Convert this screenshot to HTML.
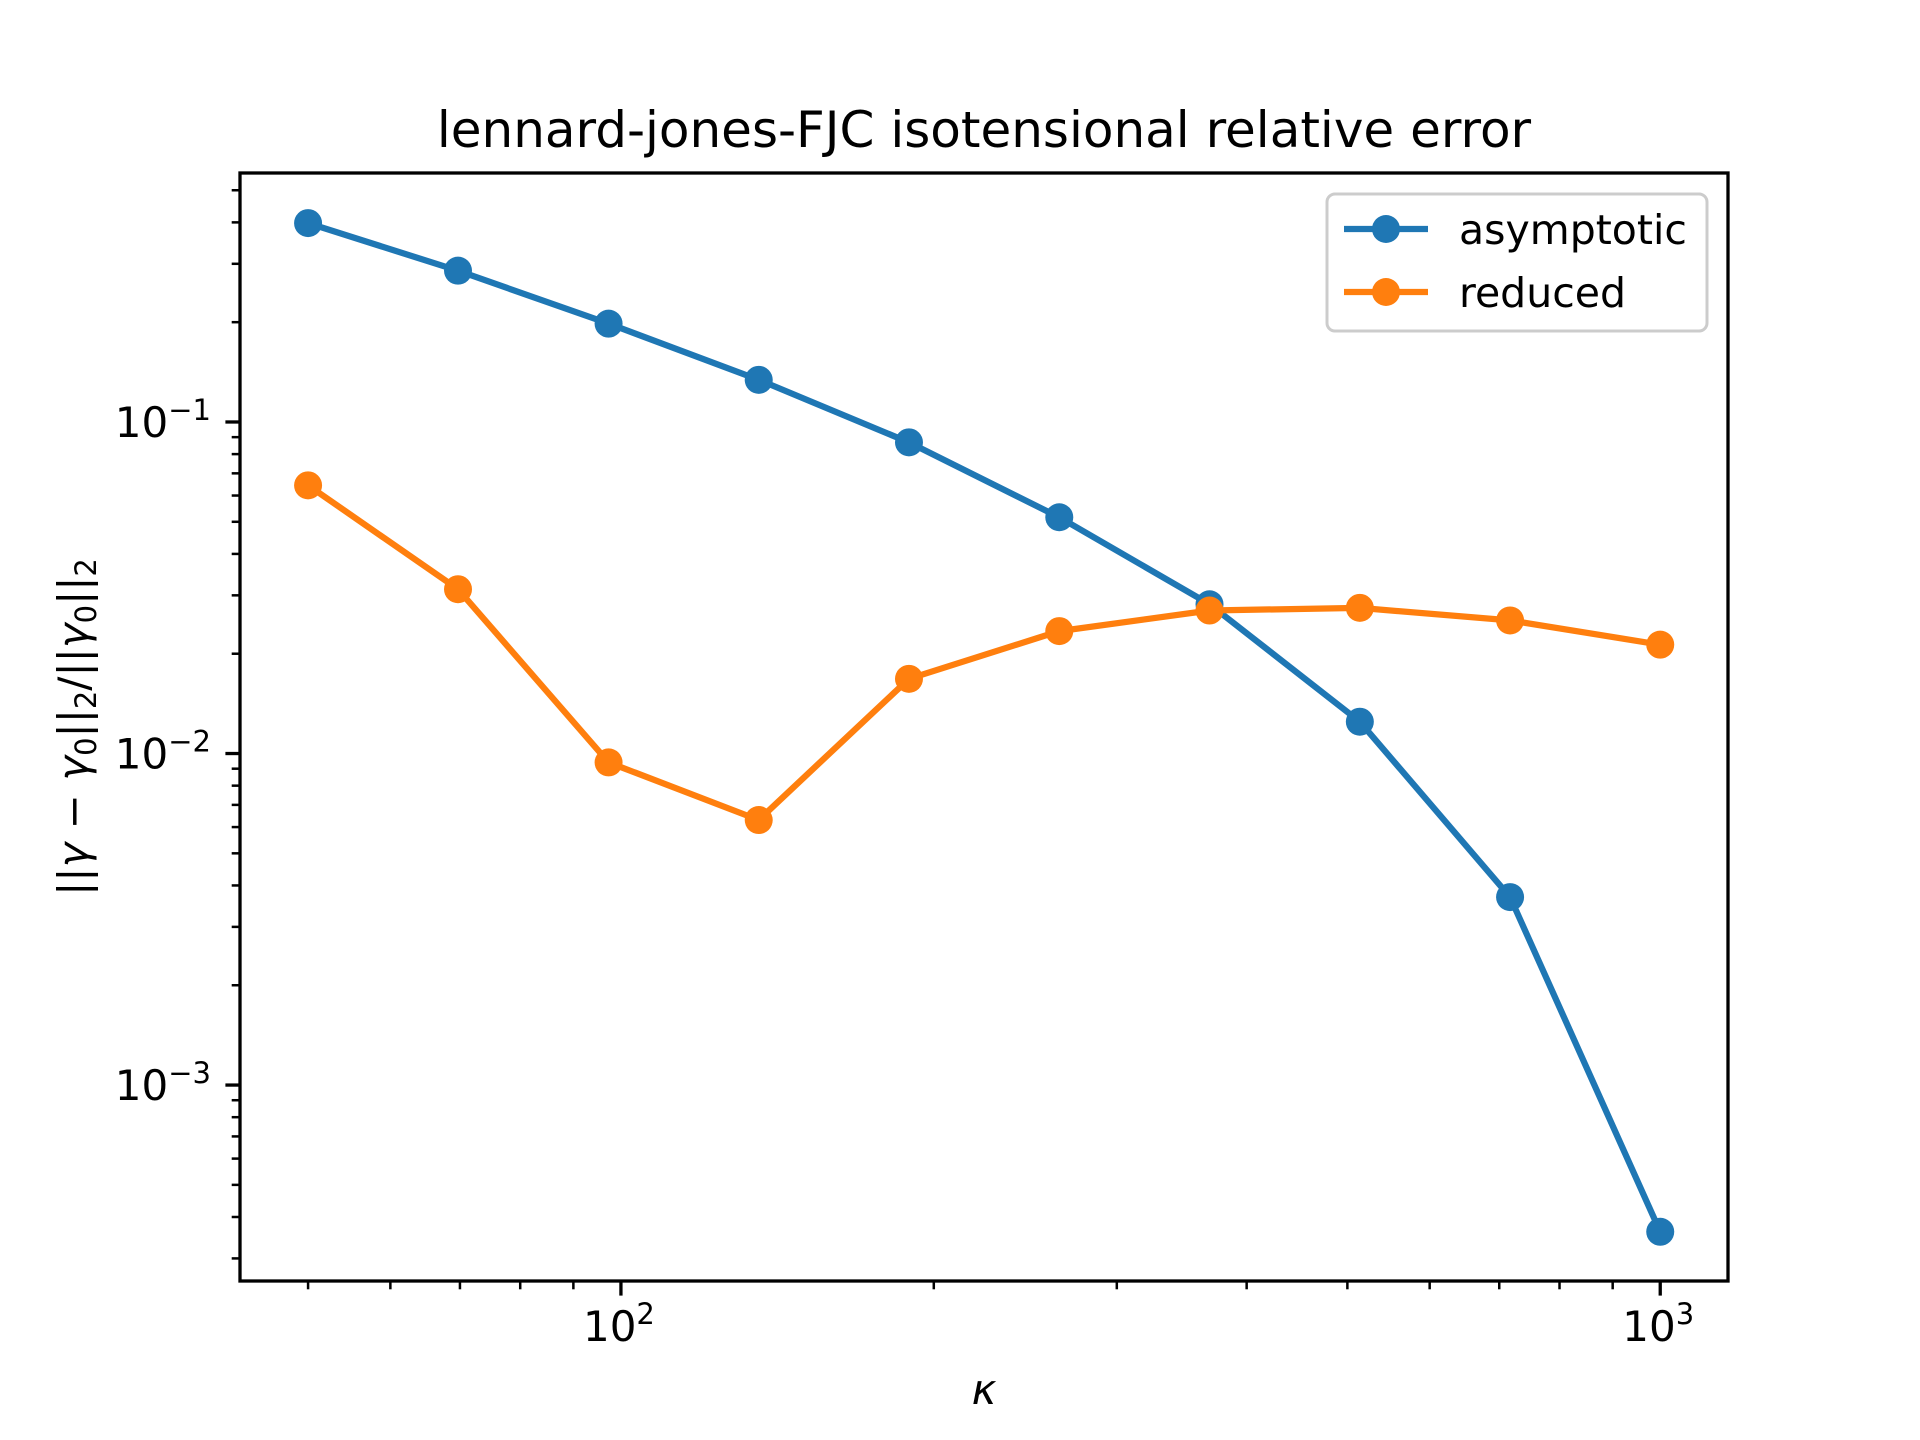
<!DOCTYPE html>
<html><head><meta charset="utf-8"><style>
html,body{margin:0;padding:0;background:#fff;}
svg{display:block;font-family:"DejaVu Sans","Liberation Sans",sans-serif;}
</style></head><body>
<svg id="chart" width="1920" height="1440" viewBox="0 0 1920 1440">
<rect width="1920" height="1440" fill="#fff"/>
<text x="984" y="147" font-size="50" text-anchor="middle">lennard-jones-FJC isotensional relative error</text>
<g id="grid-layer"></g>
<g id="series-layer"></g>
<rect x="240" y="173" width="1488" height="1108" fill="none" stroke="#000" stroke-width="3.3"/>
<text x="984" y="1404" font-size="42" font-style="italic" text-anchor="middle">κ</text>
<text transform="translate(88,727) rotate(-90)" font-size="42" text-anchor="middle">||<tspan font-style="italic">γ</tspan> − <tspan font-style="italic">γ</tspan><tspan font-size="29" dy="8">0</tspan><tspan dy="-8">||</tspan><tspan font-size="29" dy="8">2</tspan><tspan dy="-8">/||</tspan><tspan font-style="italic">γ</tspan><tspan font-size="29" dy="8">0</tspan><tspan dy="-8">||</tspan><tspan font-size="29" dy="8">2</tspan></text>
<g>
<rect x="1327" y="194" width="380" height="137" rx="8" fill="#fff" fill-opacity="0.8" stroke="#ccc" stroke-width="3"/>
<line x1="1344" y1="229" x2="1428" y2="229" stroke="#1f77b4" stroke-width="6.25"/>
<circle cx="1386" cy="229" r="14" fill="#1f77b4"/>
<text x="1459" y="244" font-size="41">asymptotic</text>
<line x1="1344" y1="292" x2="1428" y2="292" stroke="#ff7f0e" stroke-width="6.25"/>
<circle cx="1386" cy="292" r="14" fill="#ff7f0e"/>
<text x="1459" y="307" font-size="41">reduced</text>
</g>
</svg>
<script>
const kappa = [50, 69.7, 97.3, 135.7, 189.3, 264.1, 368.4, 514.0, 717.0, 1000];
const asymptotic = [0.398, 0.286, 0.198, 0.134, 0.0868, 0.0516, 0.0282, 0.01247, 0.00369, 0.000361];
const reduced = [0.0644, 0.0313, 0.0094, 0.0063, 0.0168, 0.0234, 0.0270, 0.0275, 0.0252, 0.0213];
const xMajorTicks = [100, 1000];
const xMajorLabels = ["2", "3"];
const yMajorTicks = [0.1, 0.01, 0.001];
const yMajorLabels = ["−1", "−2", "−3"];

const NS = "http://www.w3.org/2000/svg";
const L = 240, R = 1728, T = 173, B = 1281;
const xMin = Math.log10(43), xMax = Math.log10(1162);
const yMin = -3.591, yMax = -0.249;
function X(v){ return L + (Math.log10(v) - xMin) / (xMax - xMin) * (R - L); }
function Y(v){ return B - (Math.log10(v) - yMin) / (yMax - yMin) * (B - T); }
function mk(tag, attrs, parent){ const e = document.createElementNS(NS, tag); for (const k in attrs) e.setAttribute(k, attrs[k]); parent.appendChild(e); return e; }
const grid = document.getElementById("grid-layer");
const ser = document.getElementById("series-layer");

for (let d = 10; d <= 1000; d *= 10) for (let m = 2; m <= 9; m++) {
  const v = d * m; if (v < 43 || v > 1162) continue;
  const t = mk("line", {x1: X(v), x2: X(v), y1: B, y2: B + 8.3, stroke: "#000", "stroke-width": 2.5}, grid);
  
  
}
xMajorTicks.forEach((v, i) => {
  const t = mk("line", {x1: X(v), x2: X(v), y1: B, y2: B + 14.6, stroke: "#000", "stroke-width": 3.3}, grid);
  
  
  const tx = mk("text", {x: X(v) - 2, y: B + 60, "font-size": 42, "text-anchor": "middle"}, grid);
  
  
  tx.textContent = "10";
  const s = mk("tspan", {"font-size": 29, dy: -17}, tx); s.textContent = xMajorLabels[i];
});
for (let d = 0.0001; d < 1; d *= 10) for (let m = 2; m <= 9; m++) {
  const v = d * m; const lv = Math.log10(v); if (lv < yMin || lv > yMax) continue;
  const t = mk("line", {x1: L, x2: L - 8.3, y1: Y(v), y2: Y(v), stroke: "#000", "stroke-width": 2.5}, grid);
  
  
}
yMajorTicks.forEach((v, i) => {
  const t = mk("line", {x1: L, x2: L - 14.6, y1: Y(v), y2: Y(v), stroke: "#000", "stroke-width": 3.3}, grid);
  
  
  const tx = mk("text", {x: 211, y: Y(v) + 15, "font-size": 42, "text-anchor": "end"}, grid);
  
  
  tx.textContent = "10";
  const s = mk("tspan", {"font-size": 29, dy: -17}, tx); s.textContent = yMajorLabels[i];
});
function drawSeries(vals, color, name){
  const pts = kappa.map((k, i) => X(k).toFixed(1) + "," + Y(vals[i]).toFixed(1)).join(" ");
  const pl = mk("polyline", {points: pts, fill: "none", stroke: color, "stroke-width": 6.25, "stroke-linejoin": "round", "stroke-linecap": "square"}, ser);
  
  
  kappa.forEach((k, i) => {
    const c = mk("circle", {cx: X(k), cy: Y(vals[i]), r: 14, fill: color}, ser);
    
    
  });
}
drawSeries(asymptotic, "#1f77b4", "asymptotic");
drawSeries(reduced, "#ff7f0e", "reduced");
</script>
</body></html>
